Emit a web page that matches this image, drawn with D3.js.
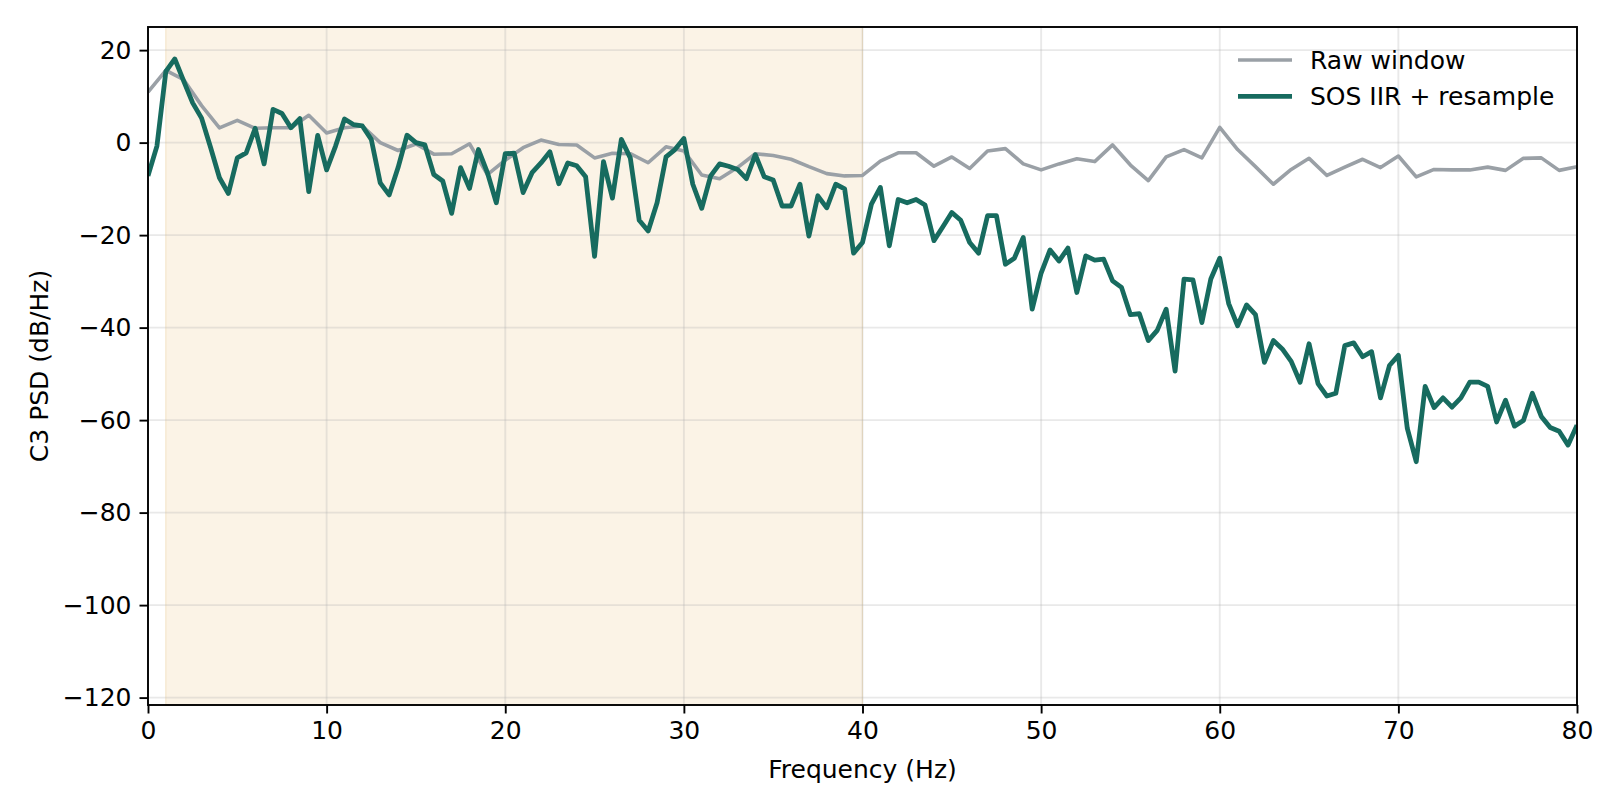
<!DOCTYPE html>
<html>
<head>
<meta charset="utf-8">
<script src="https://cdn.jsdelivr.net/npm/d3@7"></script>
<style>
  body { margin: 0; background: #fff; }
  text { font-family: "DejaVu Sans", sans-serif; }
</style>
</head>
<body>
<svg id="psd"></svg>
<script>
// frequency bins: raw PSD every 1 Hz, filtered PSD every 0.5 Hz
var rawStep = 1;
var filtStep = 0.5;

// Raw window PSD (dB/Hz), 0..80 Hz
var rawPsd = [
  10.9, 15.6, 13.6, 8.0, 3.2, 4.8, 3.1, 3.2, 3.2, 5.9,
  2.1, 3.2, 3.6, 0.0, -1.7, -0.3, -2.5, -2.4, -0.25, -6.9,
  -3.8, -1.1, 0.55, -0.4, -0.5, -3.3, -2.3, -2.4, -4.35, -0.9,
  -1.8, -7.0, -7.8, -5.4, -2.4, -2.8, -3.6, -5.2, -6.7, -7.2,
  -7.1, -4.0, -2.2, -2.2, -5.1, -3.1, -5.6, -1.8, -1.3, -4.6,
  -5.9, -4.6, -3.5, -4.1, -0.5, -4.85, -8.2, -3.1, -1.5, -3.3,
  3.3, -1.5, -5.2, -9.0, -5.8, -3.4, -7.1, -5.3, -3.6, -5.4,
  -2.9, -7.4, -5.8, -5.9, -5.9, -5.3, -6.0, -3.4, -3.3, -6.0,
  -5.2
];

// SOS IIR + resample PSD (dB/Hz), 0..80 Hz
var filtPsd = [
  -7.2, -0.75, 15.4, 18.1, 13.3, 8.6, 5.3, -1.0, -7.6, -11.0,
  -3.3, -2.2, 3.1, -4.6, 7.2, 6.3, 3.2, 5.2, -10.6, 1.55,
  -5.9, -0.75, 5.1, 3.9, 3.6, 0.7, -8.7, -11.3, -5.4, 1.6,
  0.0, -0.5, -6.9, -8.3, -15.3, -5.4, -9.9, -1.5, -6.5, -13.0,
  -2.4, -2.3, -10.8, -6.5, -4.4, -2.0, -8.9, -4.4, -5.0, -7.4,
  -24.6, -4.1, -12.0, 0.7, -3.3, -16.8, -19.1, -13.0, -3.1, -1.5,
  0.9, -9.0, -14.2, -7.2, -4.6, -5.1, -5.8, -7.8, -2.6, -7.4,
  -8.1, -13.7, -13.7, -9.0, -20.2, -11.5, -14.1, -9.0, -10.0, -23.9,
  -21.6, -13.3, -9.7, -22.3, -12.3, -13.0, -12.3, -13.5, -21.2, -18.2,
  -15.1, -16.8, -21.6, -23.9, -15.8, -15.8, -26.3, -25.0, -20.5, -36.0,
  -28.2, -23.2, -25.6, -22.8, -32.4, -24.5, -25.4, -25.2, -29.9, -31.3,
  -37.2, -37.0, -42.8, -40.6, -36.0, -49.4, -29.5, -29.7, -38.9, -29.5,
  -25.0, -34.8, -39.6, -35.1, -37.2, -47.5, -42.8, -44.6, -47.3, -51.8,
  -43.5, -52.1, -54.8, -54.2, -43.9, -43.3, -46.3, -45.2, -55.2, -48.2,
  -46.0, -61.8, -69.0, -52.7, -57.3, -55.2, -57.2, -55.2, -51.8, -51.8,
  -52.7, -60.4, -55.7, -61.3, -60.1, -54.2, -59.2, -61.6, -62.4, -65.4,
  -61.1
];

var passBand = [1, 40];
var xTicks = [0, 10, 20, 30, 40, 50, 60, 70, 80];
var yTicks = [-120, -100, -80, -60, -40, -20, 0, 20];
var seriesNames = ["Raw window", "SOS IIR + resample"];

var width = 1620, height = 810;
var margin = {top: 27, right: 43, bottom: 105, left: 148};
var fontSize = 25;

var svg = d3.select("#psd")
            .attr("width", width)
            .attr("height", height);

var x = d3.scaleLinear()
          .domain([0, 80])
          .range([margin.left, width - margin.right]);

var y = d3.scaleLinear()
          .domain([-121.6, 25.0])
          .range([height - margin.bottom, margin.top]);

svg.append("defs").append("clipPath")
   .attr("id", "plot-clip")
   .append("rect")
   .attr("x", margin.left)
   .attr("y", margin.top)
   .attr("width", x.range()[1] - x.range()[0])
   .attr("height", y.range()[0] - y.range()[1]);

// pass band shading
svg.append("rect")
   .attr("x", x(passBand[0]))
   .attr("y", margin.top)
   .attr("width", x(passBand[1]) - x(passBand[0]))
   .attr("height", y.range()[0] - y.range()[1])
   .attr("fill", "#fbf3e6")
   .attr("stroke", "#f3e2c4")
   .attr("stroke-width", 1);

// grid
var grid = svg.append("g").attr("class", "grid");
grid.selectAll(".gx")
    .data(xTicks)
    .enter()
    .append("line")
    .attr("x1", d => x(d)).attr("x2", d => x(d))
    .attr("y1", margin.top).attr("y2", height - margin.bottom);
grid.selectAll(".gy")
    .data(yTicks)
    .enter()
    .append("line")
    .attr("x1", margin.left).attr("x2", width - margin.right)
    .attr("y1", d => y(d)).attr("y2", d => y(d));
grid.selectAll("line")
    .attr("stroke", "#b0b0b0")
    .attr("stroke-opacity", 0.28)
    .attr("stroke-width", 1.9);

// lines
var rawLine = d3.line()
                .x((d, i) => x(i * rawStep))
                .y(d => y(d));
var filtLine = d3.line()
                 .x((d, i) => x(i * filtStep))
                 .y(d => y(d));

var plot = svg.append("g").attr("clip-path", "url(#plot-clip)");
plot.append("path")
    .datum(rawPsd)
    .attr("d", rawLine)
    .attr("fill", "none")
    .attr("stroke", "#9aa0a6")
    .attr("stroke-width", 3.6)
    .attr("stroke-linejoin", "round");
plot.append("path")
    .datum(filtPsd)
    .attr("d", filtLine)
    .attr("fill", "none")
    .attr("stroke", "#176b5f")
    .attr("stroke-width", 4.8)
    .attr("stroke-linejoin", "round");

// axes
var xAxis = svg.append("g")
               .attr("transform", "translate(0," + (height - margin.bottom) + ")")
               .call(d3.axisBottom(x).tickValues(xTicks).tickSize(8.5).tickPadding(8));
var yAxis = svg.append("g")
               .attr("transform", "translate(" + margin.left + ",0)")
               .call(d3.axisLeft(y).tickValues(yTicks).tickSize(8.5).tickPadding(8));

[xAxis, yAxis].forEach(function (ax) {
    ax.select(".domain").remove();
    ax.selectAll(".tick line").attr("stroke", "#000").attr("stroke-width", 1.9);
    ax.selectAll(".tick text")
      .attr("font-size", fontSize)
      .attr("font-family", "DejaVu Sans")
      .attr("fill", "#000");
});

// frame
svg.append("rect")
   .attr("x", margin.left)
   .attr("y", margin.top)
   .attr("width", x.range()[1] - x.range()[0])
   .attr("height", y.range()[0] - y.range()[1])
   .attr("fill", "none")
   .attr("stroke", "#000")
   .attr("stroke-width", 1.9);

// axis labels
svg.append("text")
   .attr("x", (x.range()[0] + x.range()[1]) / 2)
   .attr("y", 778)
   .attr("text-anchor", "middle")
   .attr("font-size", fontSize)
   .text("Frequency (Hz)");

svg.append("text")
   .attr("transform", "translate(48," + (y.range()[0] + y.range()[1]) / 2 + ") rotate(-90)")
   .attr("text-anchor", "middle")
   .attr("font-size", fontSize)
   .text("C3 PSD (dB/Hz)");

// legend (no frame)
var legend = svg.append("g").attr("transform", "translate(1238,60)");
var legendColors = ["#9aa0a6", "#176b5f"];
var legendWidths = [3.6, 4.8];
seriesNames.forEach(function (name, i) {
    var row = legend.append("g").attr("transform", "translate(0," + i * 36.3 + ")");
    row.append("line")
       .attr("x1", 0).attr("x2", 54)
       .attr("y1", 0).attr("y2", 0)
       .attr("stroke", legendColors[i])
       .attr("stroke-width", legendWidths[i]);
    row.append("text")
       .attr("x", 72)
       .attr("y", 0)
       .attr("dy", "0.36em")
       .attr("font-size", fontSize)
       .text(name);
});
</script>
</body>
</html>
